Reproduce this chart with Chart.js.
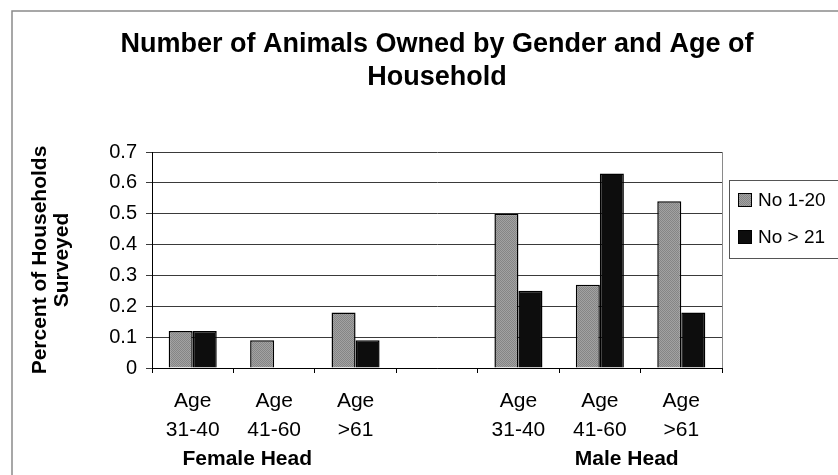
<!DOCTYPE html>
<html>
<head>
<meta charset="utf-8">
<script src="https://cdn.jsdelivr.net/npm/chart.js@4.4.1/dist/chart.umd.min.js"></script>
<style>
  html, body { margin: 0; padding: 0; background: #fff; }
  canvas { display: block; }
</style>
</head>
<body>
<canvas id="chart" width="838" height="475"></canvas>
<script>
// --- DATOS ---
const titleLines = ['Number of Animals Owned by Gender and Age of', 'Household'];
const categories = [['Age', '31-40'], ['Age', '41-60'], ['Age', '>61'], '', ['Age', '31-40'], ['Age', '41-60'], ['Age', '>61']];
const groupLabels = ['Female Head', 'Male Head'];
const groupCenter = [1, 5];          // categoría central de cada grupo
const seriesNames = ['No 1-20', 'No > 21'];
const smallHerd = [0.12, 0.09, 0.18, null, 0.50, 0.27, 0.54];
const largeHerd = [0.12, 0, 0.09, null, 0.25, 0.63, 0.18];
const yTickLabels = ['0', '0.1', '0.2', '0.3', '0.4', '0.5', '0.6', '0.7'];
const yTitle = ['Percent of Households', 'Surveyed'];

const FONT = '"Liberation Sans", Arial, sans-serif';

// textura gris punteada como en la impresión original
function grayPattern() {
    const c = document.createElement('canvas');
    c.width = 2; c.height = 2;
    const g = c.getContext('2d');
    g.fillStyle = '#a2a2a2';
    g.fillRect(0, 0, 2, 2);
    g.fillStyle = '#858585';
    g.fillRect(0, 0, 1, 1);
    g.fillRect(1, 1, 1, 1);
    return g.createPattern(c, 'repeat');
}
const grayFill = grayPattern();
const fills = [grayFill, '#0d0d0d'];

// --- DECORACIÓN: marco, título, grupos y leyenda ---
const decor = {
    id: 'decor',
    beforeDraw(chart) {
        const ctx = chart.ctx;
        ctx.save();
        ctx.fillStyle = '#fff';
        ctx.fillRect(0, 0, chart.width, chart.height);
        ctx.strokeStyle = '#8a8a8a';
        ctx.lineWidth = 1.5;
        ctx.strokeRect(12, 11, chart.width, chart.height);
        ctx.restore();
    },
    afterDraw(chart) {
        const ctx = chart.ctx;
        const area = chart.chartArea;
        const x = chart.scales.x;
        ctx.save();

        // borde derecho del área de trazado
        ctx.strokeStyle = '#8a8a8a';
        ctx.lineWidth = 1;
        ctx.beginPath();
        ctx.moveTo(area.right + 0.5, area.top);
        ctx.lineTo(area.right + 0.5, area.bottom);
        ctx.stroke();

        // título
        ctx.fillStyle = '#000';
        ctx.textAlign = 'center';
        ctx.textBaseline = 'middle';
        ctx.font = 'bold 27px ' + FONT;
        const cx = (area.left + area.right) / 2;
        titleLines.forEach((t, i) => ctx.fillText(t, cx, 45 + i * 33));

        // etiquetas de grupo debajo de las categorías
        const catW = x.getPixelForValue(1) - x.getPixelForValue(0);
        const shift = [-0.33, 0.33];
        ctx.font = 'bold 21px ' + FONT;
        groupLabels.forEach((g, i) => {
            ctx.fillText(g, x.getPixelForValue(groupCenter[i]) + shift[i] * catW, 459);
        });

        // leyenda con recuadro
        ctx.strokeStyle = '#555';
        ctx.lineWidth = 1;
        ctx.strokeRect(729.5, 180.5, 140, 78);
        ctx.font = '19px ' + FONT;
        ctx.textAlign = 'left';
        chart.data.datasets.forEach((ds, i) => {
            const yy = 200 + i * 37;
            ctx.fillStyle = ds.backgroundColor;
            ctx.fillRect(738, yy - 7, 14, 14);
            ctx.strokeStyle = '#000';
            ctx.strokeRect(738.5, yy - 6.5, 13, 13);
            ctx.fillStyle = '#000';
            ctx.fillText(ds.label, 758, yy + 1);
        });
        ctx.restore();
    }
};

new Chart(document.getElementById('chart'), {
    type: 'bar',
    data: {
        labels: categories,
        datasets: [smallHerd, largeHerd].map((d, i) => ({
            label: seriesNames[i],
            data: d,
            backgroundColor: fills[i],
            borderColor: '#000',
            borderWidth: 1.5,
            barPercentage: 1,
            categoryPercentage: 0.59
        }))
    },
    options: {
        responsive: false,
        animation: false,
        devicePixelRatio: 1,
        layout: { padding: { top: 152, right: 116, bottom: 0, left: 0 } },
        plugins: {
            legend: { display: false },
            title: { display: false },
            tooltip: { enabled: false }
        },
        scales: {
            x: {
                afterFit: s => { s.height = 107; },
                grid: { drawOnChartArea: false, drawTicks: true, tickLength: 5, color: '#000', offset: true },
                border: { color: '#000', width: 1 },
                ticks: {
                    color: '#000',
                    font: { family: FONT, size: 21, lineHeight: 1.38 },
                    padding: 14,
                    maxRotation: 0,
                    autoSkip: false
                }
            },
            y: {
                min: 0,
                max: 0.7,
                afterFit: s => { s.width = 152; },
                grid: { color: '#3a3a3a', lineWidth: 1, tickLength: 6 },
                border: { color: '#000', width: 1 },
                ticks: {
                    stepSize: 0.1,
                    color: '#000',
                    font: { family: FONT, size: 20 },
                    padding: 9,
                    callback: (v, i) => yTickLabels[i]
                },
                title: {
                    display: true,
                    text: yTitle,
                    color: '#000',
                    font: { family: FONT, size: 21, weight: 'bold', lineHeight: 1.06 },
                    padding: { top: 29, bottom: 0 }
                }
            }
        }
    },
    plugins: [decor]
});
</script>
</body>
</html>
